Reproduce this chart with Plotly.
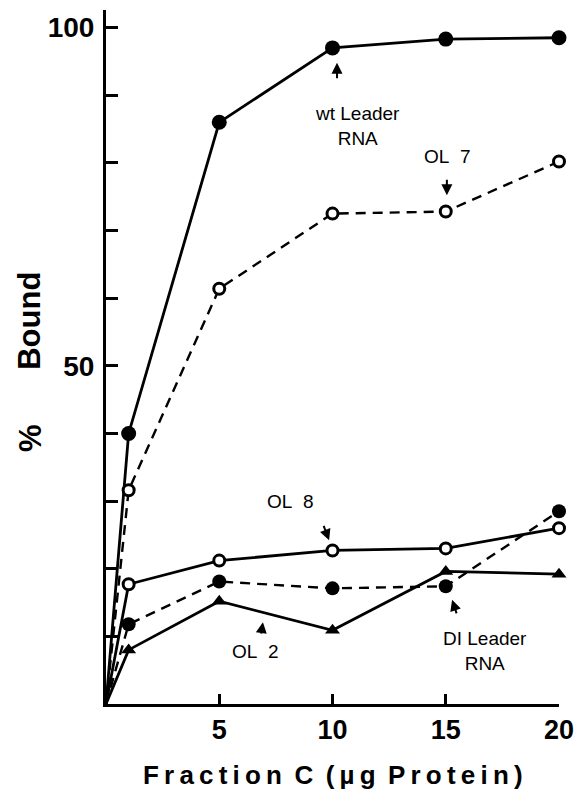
import plotly.graph_objects as go

# ---- data ----
x_vals = [0, 1, 5, 10, 15, 20]
wt_leader = [0, 40, 86, 97, 98.3, 98.5]
ol7 = [0, 31.6, 61.4, 72.5, 72.8, 80.2]
ol8 = [0, 17.7, 21.2, 22.7, 23.0, 26.0]
di_leader = [0, 11.8, 18.1, 17.1, 17.4, 28.5]
ol2 = [0, 8.0, 15.2, 10.9, 19.6, 19.2]

y_tickvals = [10, 20, 30, 40, 50, 60, 70, 80, 90, 100]
y_ticktext = ["", "", "", "", "50", "", "", "", "", "100"]
x_tickvals = [5, 10, 15, 20]
x_ticktext = ["5", "10", "15", "20"]

BLACK = "#000000"
op = [0, 1, 1, 1, 1, 1]

fig = go.Figure()

def add_series(y, symbol, fill, size, dash, lw=2.8, mlw=0):
    fig.add_trace(go.Scatter(
        x=x_vals, y=y, mode="lines+markers", cliponaxis=False,
        line=dict(color=BLACK, width=lw, dash=dash),
        marker=dict(symbol=symbol, size=size, color=fill, opacity=op,
                    line=dict(color=BLACK, width=mlw)),
        showlegend=False, hoverinfo="skip"))

add_series(wt_leader, "circle", BLACK, 15, "solid")
add_series(ol7, "circle", "white", 11, "10px,7px", lw=2.4, mlw=3)
add_series(ol8, "circle", "white", 11, "solid", mlw=3)
add_series(di_leader, "circle", BLACK, 14, "10px,7px", lw=2.4)
add_series(ol2, "triangle-up", BLACK, 13, "solid")

TXT = dict(family="Liberation Sans, Arial, sans-serif", size=19, color=BLACK)
NB = "\u00a0"

labels = [
    ("wt Leader<br>RNA", 11.1, 85.5),
    ("OL" + NB + NB + "7", 15.05, 80.9),
    ("OL" + NB + NB + "8", 8.12, 29.9),
    ("OL" + NB + NB + "2", 6.58, 7.7),
    ("DI Leader<br>RNA", 16.73, 7.8),
]
for t, xx, yy in labels:
    fig.add_annotation(x=xx, y=yy, text=t, showarrow=False, font=TXT,
                       xref="x", yref="y", align="center",
                       xanchor="center", yanchor="middle")

arrows = [
    (10.2, 94.8, 0, 17),
    (15.05, 75.2, 0, -17),
    (9.85, 24.2, -6, -16),
    (6.93, 12.1, -2, 13),
    (15.28, 15.4, 5, 15),
]
for xx, yy, ax, ay in arrows:
    fig.add_annotation(x=xx, y=yy, ax=ax, ay=ay, text="", showarrow=True,
                       arrowhead=2, arrowsize=1.1, arrowwidth=2,
                       arrowcolor=BLACK, xref="x", yref="y")

# axis titles
TS = "\u2009"
title_words = ["Fraction", "C", "(µg", "Protein)"]
title_text = (NB + TS).join(TS.join(w) for w in title_words)
fig.add_annotation(text=title_text,
                   x=0.5, y=-0.103, xref="paper", yref="paper", showarrow=False,
                   xanchor="center", yanchor="middle",
                   font=dict(family="Liberation Sans, Arial, sans-serif", size=26,
                             color=BLACK, weight="bold"))
fig.add_annotation(text="Bound", x=-0.168, y=0.552, xref="paper", yref="paper",
                   showarrow=False, textangle=-90, xanchor="center", yanchor="middle",
                   font=dict(family="Liberation Sans, Arial, sans-serif", size=31,
                             color=BLACK, weight="bold"))
fig.add_annotation(text="%", x=-0.168, y=0.383, xref="paper", yref="paper",
                   showarrow=False, textangle=-90, xanchor="center", yanchor="middle",
                   font=dict(family="Liberation Sans, Arial, sans-serif", size=31,
                             color=BLACK, weight="bold"))

# the page body adds an 8px offset; the figure is sized to fit the window
fig.update_layout(
    width=577, height=790,
    margin=dict(l=98, r=26, t=2, b=94),
    paper_bgcolor="white", plot_bgcolor="white",
    xaxis=dict(range=[0, 20], showgrid=False, zeroline=False, showline=True,
               automargin=False,
               linecolor=BLACK, linewidth=3, ticks="inside", ticklen=10,
               tickwidth=2.5, tickcolor=BLACK, tickvals=x_tickvals,
               ticktext=x_ticktext, ticklabelstandoff=0,
               tickfont=dict(family="Liberation Sans, Arial, sans-serif", size=27,
                             color=BLACK, weight="bold")),
    yaxis=dict(range=[0, 102.6], showgrid=False, zeroline=False, showline=True,
               automargin=False,
               linecolor=BLACK, linewidth=3, ticks="inside", ticklen=12,
               tickwidth=2.5, tickcolor=BLACK, tickvals=y_tickvals,
               ticktext=y_ticktext, ticklabelstandoff=3,
               tickfont=dict(family="Liberation Sans Narrow, Arial Narrow, sans-serif",
                             size=28, color=BLACK, weight="bold")),
)

fig.write_html("out.html")
